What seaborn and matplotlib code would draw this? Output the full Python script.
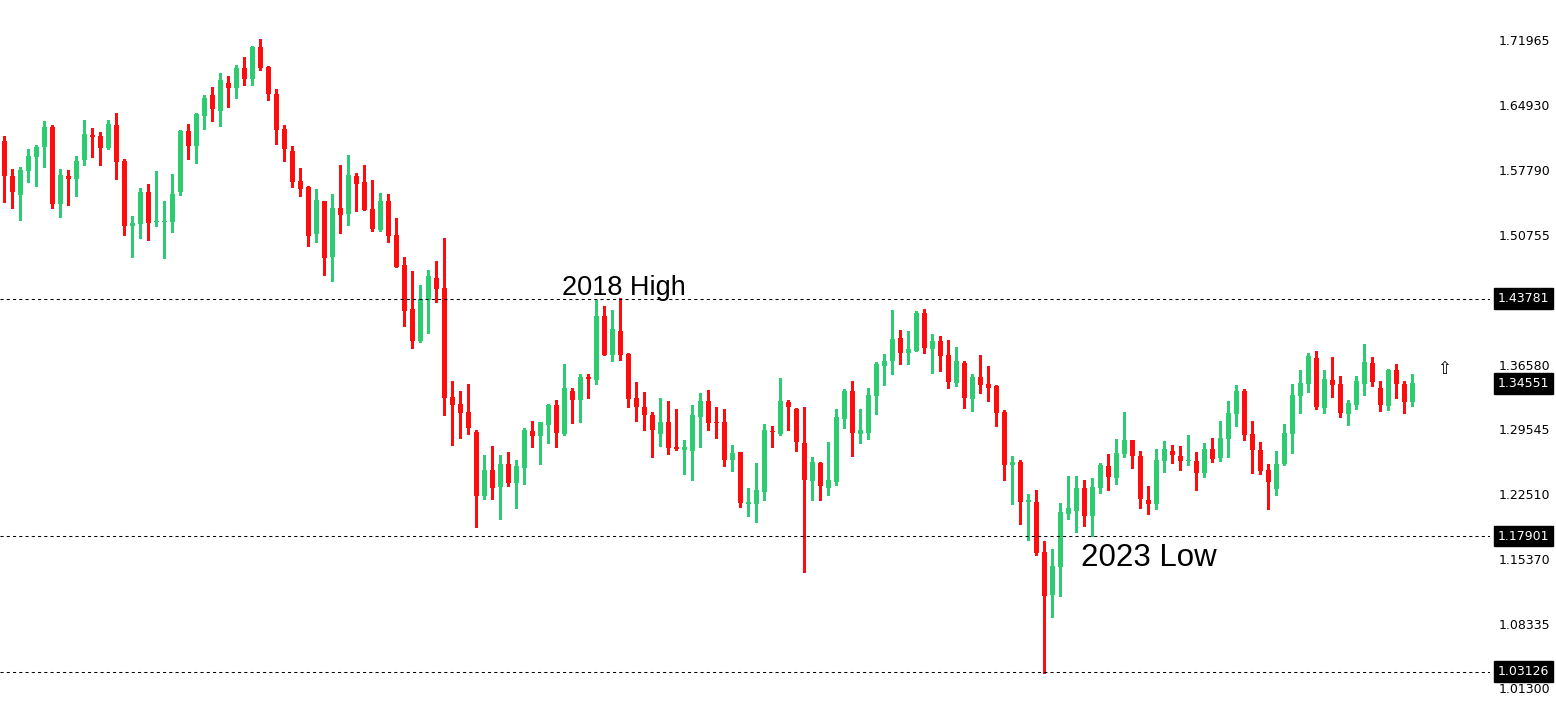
import numpy as np
import pandas as pd
import matplotlib
matplotlib.use("Agg")
import matplotlib.pyplot as plt
import matplotlib.transforms as mtransforms
import seaborn as sns

# weekly candles (oldest first)
opens = [
    1.6096, 1.5715, 1.5511, 1.5772, 1.5925, 1.6034, 1.6249, 1.5413, 1.5711, 1.5685,
    1.5892, 1.6162, 1.6151, 1.6023, 1.6271, 1.5878, 1.5173, 1.5195, 1.5540, 1.5213,
    1.5213, 1.5217, 1.5543, 1.6205, 1.6045, 1.6372, 1.6598, 1.6426, 1.6728, 1.6677,
    1.6892, 1.6775, 1.7121, 1.6903, 1.6608, 1.6227, 1.5987, 1.5660, 1.5595, 1.5086,
    1.5442, 1.4835, 1.5366, 1.5304, 1.5715, 1.5649, 1.5355, 1.5129, 1.5442, 1.5072,
    1.4745, 1.4265, 1.3919, 1.4366, 1.4603, 1.4494, 1.3306, 1.3229, 1.3142, 1.2924,
    1.2230, 1.2510, 1.2328, 1.2575, 1.2372, 1.2535, 1.2935, 1.2884, 1.3004, 1.3219,
    1.2906, 1.3371, 1.3276, 1.3524, 1.3494, 1.4189, 1.3767, 1.4025, 1.3774, 1.3295,
    1.3197, 1.3110, 1.2906, 1.3033, 1.2761, 1.2731, 1.2720, 1.3091, 1.3262, 1.3033,
    1.3033, 1.2622, 1.2706, 1.2143, 1.2143, 1.2274, 1.2935, 1.2906, 1.3251, 1.3175,
    1.2804, 1.2393, 1.2586, 1.2317, 1.2383, 1.3069, 1.3371, 1.2906, 1.2917, 1.3320,
    1.3647, 1.3701, 1.3949, 1.3789, 1.3810, 1.4221, 1.3832, 1.3916, 1.3763, 1.3462,
    1.3676, 1.3287, 1.3524, 1.3447, 1.3426, 1.3142, 1.2568, 1.2597, 1.2165, 1.2161,
    1.1616, 1.1151, 1.1456, 1.2034, 1.2066, 1.2314, 1.2012, 1.2317, 1.2554, 1.2426,
    1.2688, 1.2837, 1.2663, 1.2183, 1.2143, 1.2611, 1.2717, 1.2663, 1.2611, 1.2608,
    1.2481, 1.2739, 1.2644, 1.2851, 1.3124, 1.3371, 1.2902, 1.2728, 1.2510, 1.2306,
    1.2575, 1.2906, 1.3320, 1.3451, 1.3731, 1.3189, 1.3491, 1.3447, 1.3124, 1.3222,
    1.3451, 1.3676, 1.3404, 1.3211, 1.3600, 1.3447, 1.3255,
]
highs = [
    1.6151, 1.5788, 1.5809, 1.6006, 1.6049, 1.6311, 1.6271, 1.5788, 1.5777, 1.5933,
    1.6325, 1.6238, 1.6191, 1.6325, 1.6398, 1.5900, 1.5279, 1.5584, 1.5627, 1.5769,
    1.5442, 1.5736, 1.6216, 1.6281, 1.6401, 1.6598, 1.6685, 1.6837, 1.6805, 1.6925,
    1.7012, 1.7132, 1.7208, 1.6914, 1.6663, 1.6271, 1.6042, 1.5802, 1.5606, 1.5573,
    1.5442, 1.5518, 1.5835, 1.5944, 1.5747, 1.5835, 1.5671, 1.5529, 1.5518, 1.5257,
    1.4832, 1.4679, 1.4527, 1.4690, 1.4788, 1.5039, 1.3483, 1.3374, 1.3447, 1.2946,
    1.2674, 1.2772, 1.2674, 1.2706, 1.2619, 1.2968, 1.3044, 1.3033, 1.3229, 1.3273,
    1.3665, 1.3404, 1.3556, 1.3556, 1.4363, 1.4298, 1.4254, 1.4385, 1.3785, 1.3469,
    1.3360, 1.3142, 1.3295, 1.3262, 1.3175, 1.2837, 1.3219, 1.3349, 1.3382, 1.3197,
    1.3175, 1.2783, 1.2706, 1.2314, 1.2586, 1.3011, 1.2990, 1.3513, 1.3273, 1.3186,
    1.3197, 1.2652, 1.2597, 1.2815, 1.3175, 1.3393, 1.3480, 1.3175, 1.3404, 1.3687,
    1.3774, 1.4254, 1.4036, 1.4025, 1.4243, 1.4265, 1.3992, 1.3971, 1.3927, 1.3851,
    1.3698, 1.3556, 1.3763, 1.3644, 1.3437, 1.3164, 1.2663, 1.2619, 1.2248, 1.2292,
    1.1736, 1.1649, 1.2150, 1.2445, 1.2445, 1.2401, 1.2423, 1.2586, 1.2684, 1.2848,
    1.3142, 1.2837, 1.2717, 1.2336, 1.2739, 1.2826, 1.2783, 1.2772, 1.2892, 1.2706,
    1.2804, 1.2859, 1.3044, 1.3262, 1.3437, 1.3393, 1.3044, 1.2815, 1.2575, 1.2717,
    1.3011, 1.3447, 1.3600, 1.3785, 1.3807, 1.3600, 1.3742, 1.3535, 1.3273, 1.3535,
    1.3883, 1.3742, 1.3480, 1.3611, 1.3665, 1.3480, 1.3556,
]
lows = [
    1.5434, 1.5369, 1.5238, 1.5652, 1.5609, 1.5816, 1.5369, 1.5271, 1.5402, 1.5500,
    1.5838, 1.5925, 1.5838, 1.6012, 1.5685, 1.5075, 1.4835, 1.5042, 1.5020, 1.5173,
    1.4824, 1.5108, 1.5511, 1.5903, 1.5860, 1.6230, 1.6317, 1.6263, 1.6470, 1.6568,
    1.6710, 1.6710, 1.6873, 1.6546, 1.6067, 1.5881, 1.5598, 1.5500, 1.4955, 1.4999,
    1.4639, 1.4573, 1.5097, 1.5184, 1.5336, 1.5347, 1.5118, 1.5118, 1.4999, 1.4726,
    1.4083, 1.3843, 1.3909, 1.4007, 1.4345, 1.3113, 1.2786, 1.2862, 1.2906, 1.1892,
    1.2197, 1.2197, 1.1979, 1.2339, 1.2099, 1.2361, 1.2764, 1.2579, 1.2808, 1.2764,
    1.2895, 1.3026, 1.3037, 1.3298, 1.3451, 1.3767, 1.3701, 1.3712, 1.3200, 1.3047,
    1.2949, 1.2655, 1.2775, 1.2688, 1.2731, 1.2470, 1.2404, 1.2764, 1.2949, 1.2862,
    1.2557, 1.2502, 1.2110, 1.2012, 1.1947, 1.2186, 1.2764, 1.2895, 1.2949, 1.2720,
    1.1402, 1.2183, 1.2183, 1.2241, 1.2350, 1.2971, 1.2666, 1.2808, 1.2851, 1.3124,
    1.3440, 1.3560, 1.3669, 1.3669, 1.3810, 1.3789, 1.3571, 1.3592, 1.3407, 1.3429,
    1.3189, 1.3156, 1.3353, 1.3265, 1.2993, 1.2404, 1.2143, 1.1925, 1.1750, 1.1587,
    1.0301, 1.0911, 1.1140, 1.1979, 1.1838, 1.1903, 1.1794, 1.2263, 1.2295, 1.2361,
    1.2655, 1.2535, 1.2099, 1.2034, 1.2088, 1.2492, 1.2590, 1.2513, 1.2568, 1.2295,
    1.2437, 1.2601, 1.2611, 1.2655, 1.2993, 1.2840, 1.2481, 1.2470, 1.2088, 1.2241,
    1.2568, 1.2699, 1.3135, 1.3363, 1.3178, 1.3135, 1.3309, 1.3091, 1.3004, 1.3178,
    1.3331, 1.3429, 1.3156, 1.3167, 1.3298, 1.3135, 1.3211,
]
closes = [
    1.5718, 1.5543, 1.5780, 1.5933, 1.6031, 1.6249, 1.5413, 1.5726, 1.5685, 1.5878,
    1.6172, 1.6143, 1.6023, 1.6281, 1.5871, 1.5173, 1.5202, 1.5540, 1.5206, 1.5221,
    1.5221, 1.5518, 1.6205, 1.6045, 1.6390, 1.6565, 1.6448, 1.6761, 1.6677, 1.6892,
    1.6775, 1.7121, 1.6895, 1.6612, 1.6219, 1.6012, 1.5652, 1.5576, 1.5064, 1.5453,
    1.4824, 1.5366, 1.5293, 1.5726, 1.5631, 1.5347, 1.5140, 1.5442, 1.5064, 1.4726,
    1.4246, 1.3919, 1.4374, 1.4625, 1.4486, 1.3298, 1.3222, 1.3135, 1.2971, 1.2230,
    1.2510, 1.2317, 1.2575, 1.2372, 1.2554, 1.2946, 1.2884, 1.3033, 1.3219, 1.2917,
    1.3404, 1.3276, 1.3524, 1.3505, 1.4189, 1.3767, 1.4047, 1.3767, 1.3287, 1.3200,
    1.3113, 1.2949, 1.3033, 1.2753, 1.2742, 1.2761, 1.3110, 1.3262, 1.3026, 1.3026,
    1.2622, 1.2695, 1.2154, 1.2161, 1.2292, 1.2946, 1.2924, 1.3262, 1.3200, 1.2819,
    1.2404, 1.2597, 1.2339, 1.2401, 1.3088, 1.3371, 1.2917, 1.2946, 1.3328, 1.3665,
    1.3698, 1.3938, 1.3789, 1.3829, 1.4221, 1.3843, 1.3916, 1.3756, 1.3472, 1.3698,
    1.3298, 1.3524, 1.3440, 1.3407, 1.3135, 1.2568, 1.2597, 1.2165, 1.2183, 1.1609,
    1.1140, 1.1464, 1.2052, 1.2096, 1.2314, 1.2012, 1.2325, 1.2565, 1.2437, 1.2695,
    1.2837, 1.2666, 1.2197, 1.2143, 1.2619, 1.2739, 1.2677, 1.2611, 1.2619, 1.2481,
    1.2739, 1.2633, 1.2859, 1.3131, 1.3371, 1.2895, 1.2731, 1.2502, 1.2383, 1.2575,
    1.2913, 1.3328, 1.3458, 1.3753, 1.3200, 1.3502, 1.3440, 1.3135, 1.3240, 1.3480,
    1.3687, 1.3472, 1.3222, 1.3600, 1.3451, 1.3255, 1.3458,
]

# horizontal levels and price scale
level_values = [1.43781, 1.17901, 1.03126]
level_labels = ["1.43781", "1.17901", "1.03126"]
last_price = 1.34551
last_label = "1.34551"
tick_values = [1.71965, 1.64930, 1.57790, 1.50755, 1.36580,
               1.29545, 1.22510, 1.15370, 1.08335, 1.01300]
tick_labels = ["1.71965", "1.64930", "1.57790", "1.50755", "1.36580",
               "1.29545", "1.22510", "1.15370", "1.08335", "1.01300"]

sns.set_theme(style="white")
plt.rcParams["font.family"] = ["DejaVu Sans"]

up_col = "#2ecc71"
down_col = "#ff0d0d"

df = pd.DataFrame({"open": opens, "high": highs, "low": lows, "close": closes})
df["bar"] = np.arange(len(df))
df["color"] = np.where(df["close"] >= df["open"], up_col, down_col)
body_lo = df[["open", "close"]].min(axis=1)
body_h = (df["close"] - df["open"]).abs().clip(lower=0.0012)

fig = plt.figure(figsize=(15.56, 7.16), dpi=100)
ax = fig.add_axes([0, 0, 1490 / 1556, 1])

# wicks then bodies
ax.vlines(df["bar"], df["low"], df["high"], colors=df["color"], lw=1.0, antialiased=False)
ax.bar(df["bar"], body_h, bottom=body_lo, width=0.65, color=df["color"],
       linewidth=0, antialiased=False)

for v in level_values:
    ax.axhline(v, color="black", lw=0.75, ls=(0, (3, 3)))

ax.set_xlim(-0.54, 185.71)
ax.set_ylim(0.98286, 1.7633)

ax.set_xticks([])
ax.yaxis.tick_right()
ax.set_yticks(tick_values)
ax.set_yticklabels(tick_labels)
ax.tick_params(axis="y", right=False, length=0, pad=6, labelsize=9,
               colors="black")
for s in ["top", "left", "bottom", "right"]:
    ax.spines[s].set_visible(False)

# black boxes on the price scale
trans = mtransforms.blended_transform_factory(ax.transAxes, ax.transData)
for v, lab in zip(level_values + [last_price], level_labels + [last_label]):
    ax.text(1.0054, v, lab, transform=trans, ha="left", va="center", fontsize=9,
            color="white", clip_on=False,
            bbox=dict(boxstyle="square,pad=0.3", fc="black", ec="black"))

ax.text(69.7, 1.4418, "2018 High", fontsize=19.5, family=["Liberation Sans"],
        ha="left", va="baseline", color="black")
ax.text(134.6, 1.1467, "2023 Low", fontsize=22.5, family=["Liberation Sans"],
        ha="left", va="baseline", color="black")
ax.text(180.0, 1.3611, "\u21e7", fontsize=12, ha="center", va="center", color="black")

fig.savefig("out.png", dpi=100, facecolor="white")
